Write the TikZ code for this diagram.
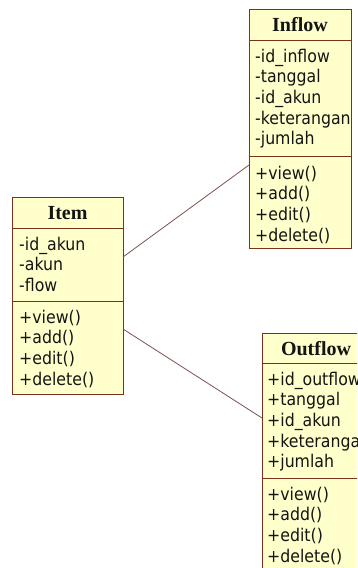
\documentclass[tikz,border=0pt]{standalone}
\usepackage{fontspec}
\setmainfont{DejaVu Sans Condensed}
\newfontfamily\titlefont{Liberation Serif}
\definecolor{umlfill}{RGB}{255,255,204}
\definecolor{umlborder}{RGB}{120,50,30}
\definecolor{umlline}{RGB}{125,80,80}
\definecolor{umltext}{RGB}{20,20,20}
\begin{document}
\begin{tikzpicture}[x=1pt,y=-1pt,
  classbox/.style={draw=umlborder, fill=umlfill, line width=0.9pt, rectangle, inner sep=0pt, anchor=north west},
  ctitle/.style={font=\titlefont\bfseries\fontsize{20}{20}\selectfont, text=umltext, inner sep=0pt, anchor=base},
  member/.style={font=\fontsize{17.5}{20}\selectfont, text=umltext, anchor=base west, inner sep=0pt},
  csep/.style={draw=umlborder, line width=0.9pt},
  assoc/.style={draw=umlline, line width=0.8pt}]
\useasboundingbox (0,0) rectangle (357,568);
\clip (0,0) rectangle (357,568);

% ---------- Item ----------
\node[classbox, minimum width=111pt, minimum height=197pt] (item) at (12,197) {};
\draw[csep] (12,228) -- (123,228);
\draw[csep] (12,301) -- (123,301);
\node[ctitle] (itemT) at (67.5,219) {Item};
\node[member] (itemA1) at (19,250) {-id\_akun};
\node[member] (itemA2) at (19,270.7) {-akun};
\node[member] (itemA3) at (19,291.4) {-flow};
\node[member] (itemM1) at (19,323) {+view()};
\node[member] (itemM2) at (19,343.7) {+add()};
\node[member] (itemM3) at (19,364.4) {+edit()};
\node[member] (itemM4) at (19,385) {+delete()};

% ---------- Inflow ----------
\node[classbox, minimum width=102pt, minimum height=239pt] (inflow) at (249,9) {};
\draw[csep] (249,40) -- (351,40);
\draw[csep] (249,156) -- (351,156);
\node[ctitle] (inflowT) at (300,31) {Inflow};
\node[member] (inA1) at (255,62) {-id\_inflow};
\node[member] (inA2) at (255,82.7) {-tanggal};
\node[member] (inA3) at (255,103.4) {-id\_akun};
\node[member] (inA4) at (255,124) {-keterangan};
\node[member] (inA5) at (255,144.8) {-jumlah};
\node[member] (inM1) at (255,179) {+view()};
\node[member] (inM2) at (255,199.7) {+add()};
\node[member] (inM3) at (255,220.4) {+edit()};
\node[member] (inM4) at (255,241) {+delete()};

% ---------- Outflow ----------
\node[classbox, minimum width=110pt, minimum height=245pt] (outflow) at (262,333) {};
\draw[csep] (262,363) -- (372,363);
\draw[csep] (262,478) -- (372,478);
\node[ctitle] (outflowT) at (316,355) {Outflow};
\node[member] (outA1) at (267,385) {+id\_outflow};
\node[member] (outA2) at (267,405.7) {+tanggal};
\node[member] (outA3) at (267,426.4) {+id\_akun};
\node[member] (outA4) at (267,447) {+keterangan};
\node[member] (outA5) at (267,467.8) {+jumlah};
\node[member] (outM1) at (267,500) {+view()};
\node[member] (outM2) at (267,520.7) {+add()};
\node[member] (outM3) at (267,541.4) {+edit()};
\node[member] (outM4) at (267,562) {+delete()};

% ---------- associations ----------
\coordinate (itemUp) at (123,257);
\coordinate (inflowEnd) at (249,165);
\coordinate (itemDown) at (123,329);
\coordinate (outflowEnd) at (262,418);
\draw[assoc] (itemUp) -- (inflowEnd);
\draw[assoc] (itemDown) -- (outflowEnd);
\end{tikzpicture}
\end{document}
